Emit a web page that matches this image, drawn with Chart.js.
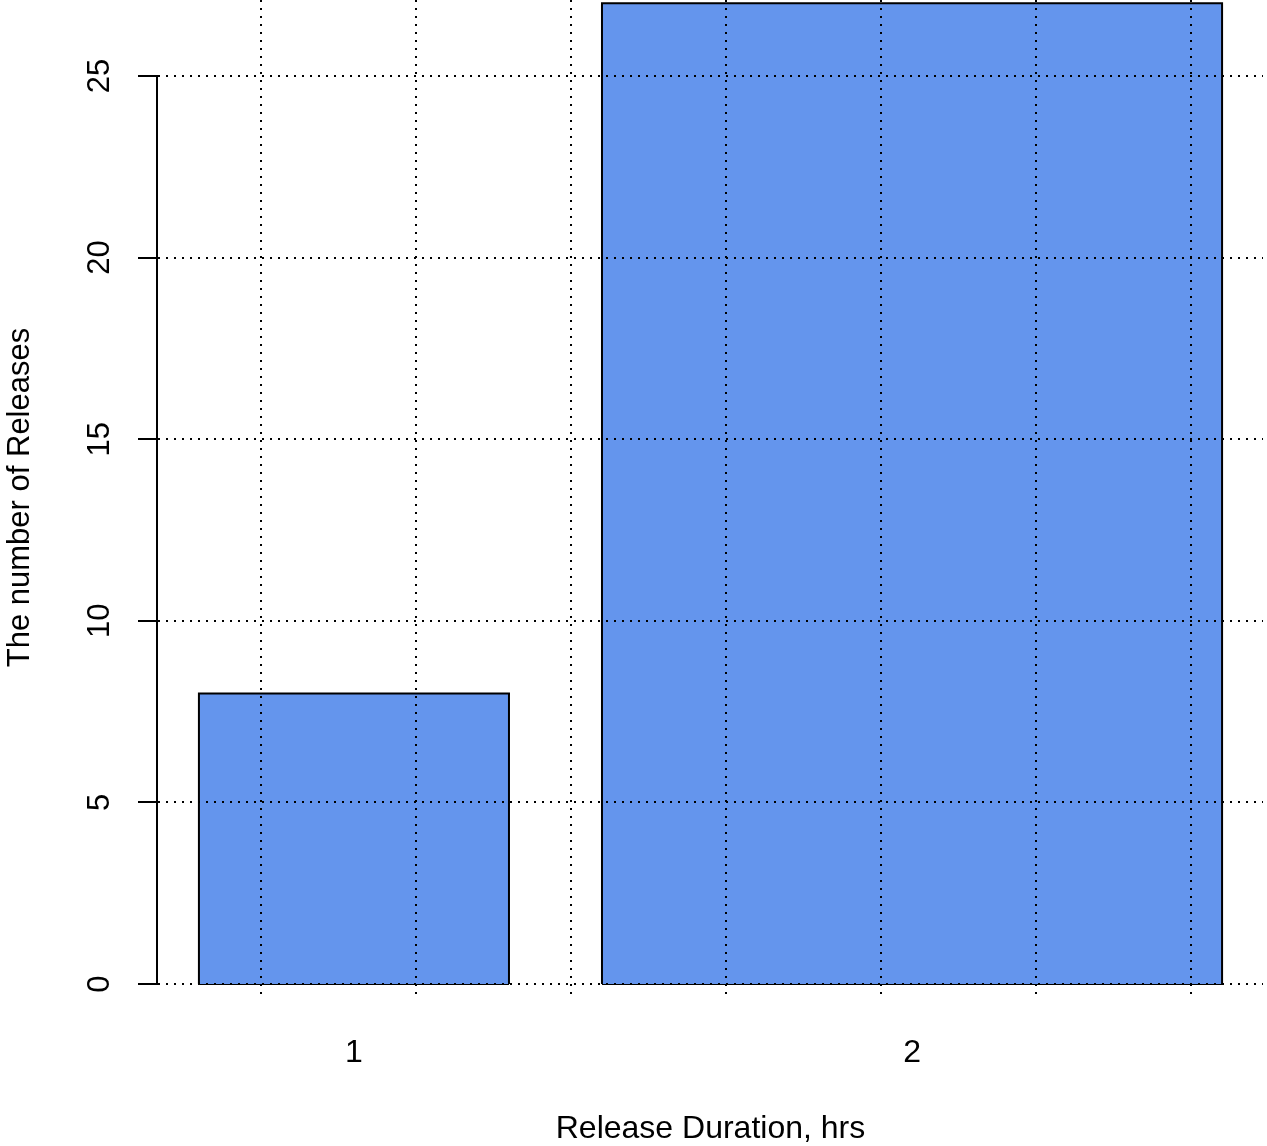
<!DOCTYPE html>
<html>
<head>
<meta charset="utf-8">
<script src="https://cdn.jsdelivr.net/npm/chart.js@4/dist/chart.umd.min.js"></script>
<style>
	html, body { margin: 0; padding: 0; background: #fff; }
	#wrap { width: 1267px; height: 1146px; }
</style>
</head>
<body>
<div id="wrap"><canvas id="release-chart" width="1267" height="1146"></canvas></div>
<script>
const categories = ['1', '2'];
const releaseCounts = [8, 27];
const barWidths = [1, 2];
const yTicks = [0, 5, 10, 15, 20, 25];
const gridX = [0.5, 1, 1.5, 2, 2.5, 3, 3.5];

const FONT = '"Liberation Sans", Arial, sans-serif';

// bar edges the way barplot lays them out (space = 0.2 of mean width)
const space = 0.2 * barWidths.reduce((a, b) => a + b, 0) / barWidths.length;
let edge = 0;
const bars = barWidths.map((w, i) => {
	const left = edge + space;
	edge = left + w;
	return { left: left, right: edge, mid: left + w / 2, value: releaseCounts[i] };
});
const xLo = bars[0].left, xHi = bars[bars.length - 1].right;
const xMin = xLo - 0.04 * (xHi - xLo);
const xMax = xHi + 0.04 * (xHi - xLo);
const yMin = -0.3, yMax = 27.09;

let datasets = [];
bars.forEach((b, i) => {
	// filled body + left/top/right outline
	datasets.push({
		label: categories[i],
		data: [
			{ x: b.left, y: 0 },
			{ x: b.left, y: b.value },
			{ x: b.right, y: b.value },
			{ x: b.right, y: 0 }
		],
		backgroundColor: '#6495ED',
		borderColor: '#000',
		borderWidth: 2,
		fill: 'origin',
		pointRadius: 0,
		tension: 0
	});
	// bottom edge of the bar
	datasets.push({
		label: categories[i] + ' base',
		data: [{ x: b.left, y: 0 }, { x: b.right, y: 0 }],
		borderColor: '#000',
		borderWidth: 2,
		fill: false,
		pointRadius: 0
	});
});

const rAxis = {
	id: 'rAxis',
	afterDraw(chart) {
		const ctx = chart.ctx;
		const y = chart.scales.y;
		ctx.save();
		ctx.strokeStyle = '#000';
		ctx.lineWidth = 2;
		ctx.beginPath();
		ctx.moveTo(y.right - 1, y.getPixelForValue(yTicks[0]));
		ctx.lineTo(y.right - 1, y.getPixelForValue(yTicks[yTicks.length - 1]));
		ctx.stroke();
		ctx.font = '31px ' + FONT;
		ctx.fillStyle = '#000';
		ctx.textAlign = 'center';
		ctx.textBaseline = 'middle';
		yTicks.forEach(v => {
			ctx.save();
			ctx.translate(100, y.getPixelForValue(v));
			ctx.rotate(-Math.PI / 2);
			ctx.fillText(String(v), 0, 0);
			ctx.restore();
		});
		ctx.restore();
	}
};

const dotted = { display: false, dash: [2, 6] };

new Chart(document.getElementById('release-chart').getContext('2d'), {
	type: 'line',
	data: { datasets: datasets },
	plugins: [rAxis],
	options: {
		responsive: false,
		animation: false,
		devicePixelRatio: 1,
		layout: { padding: { left: 0, right: 4, top: 0, bottom: 0 } },
		plugins: {
			legend: { display: false },
			tooltip: { enabled: false }
		},
		scales: {
			x: {
				type: 'linear',
				position: 'bottom',
				min: xMin,
				max: xMax,
				afterBuildTicks: s => { s.ticks = gridX.map(v => ({ value: v })); },
				afterFit: s => { s.height = 0; },
				ticks: { display: false },
				// grid goes over the bars, like grid() after barplot()
				grid: { color: '#000', lineWidth: 2, drawTicks: false, z: 1 },
				border: dotted
			},
			xl: {
				type: 'linear',
				position: 'bottom',
				min: xMin,
				max: xMax,
				afterBuildTicks: s => { s.ticks = bars.map(b => ({ value: b.mid })); },
				afterFit: s => { s.height = 151; },
				ticks: {
					color: '#000',
					font: { family: FONT, size: 32 },
					padding: 39,
					maxRotation: 0,
					callback: (v, i) => categories[i]
				},
				grid: { display: false, drawTicks: false },
				border: { display: false },
				title: {
					display: true,
					text: 'Release Duration, hrs',
					color: '#000',
					font: { family: FONT, size: 32 },
					padding: { top: 0, bottom: -2 }
				}
			},
			y: {
				type: 'linear',
				min: yMin,
				max: yMax,
				afterBuildTicks: s => { s.ticks = yTicks.map(v => ({ value: v })); },
				afterFit: s => { s.width = 158; },
				ticks: { display: false },
				grid: {
					color: '#000',
					lineWidth: 2,
					drawTicks: true,
					tickLength: 20,
					tickColor: '#000',
					tickWidth: 2,
					tickBorderDash: [],
					z: 1
				},
				border: dotted,
				title: {
					display: true,
					text: 'The number of Releases',
					color: '#000',
					font: { family: FONT, size: 31 },
					padding: { top: 2, bottom: 0 }
				}
			}
		}
	}
});
</script>
</body>
</html>
